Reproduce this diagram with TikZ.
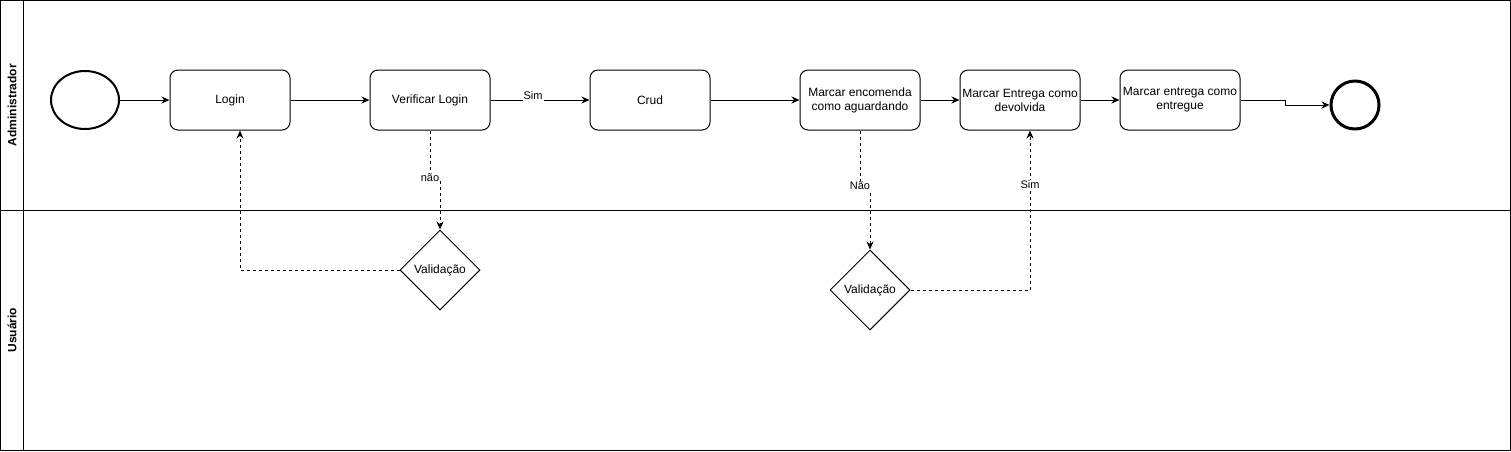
\documentclass[tikz,border=0pt]{standalone}
\usepackage{fontspec}
\setmainfont{Liberation Sans}
\usetikzlibrary{shapes, positioning, arrows.meta}

\begin{document}
\begin{tikzpicture}[
        x=1pt, y=-1pt,
        line width=1pt,
        font=\fontsize{12}{14}\selectfont,
        task/.style={draw, rounded corners=8pt, minimum width=120pt, minimum height=60pt, align=center, inner sep=1pt},
        decision/.style={draw, diamond, minimum width=80pt, minimum height=80pt, inner sep=0pt},
        startev/.style={draw, ellipse, line width=2pt, minimum width=68pt, minimum height=58pt},
        endev/.style={draw, circle, line width=3pt, minimum size=48pt},
        lane/.style={rotate=90, font=\fontsize{12}{14}\selectfont\bfseries},
        flow/.style={-{Stealth[length=8pt,width=7pt]}},
        msg/.style={flow, dashed},
        lbl/.style={fill=white, inner sep=1pt, font=\fontsize{11}{13}\selectfont}
      ]
      \useasboundingbox (0,0) rectangle (1511,451);
      % pool and lanes
      \draw (0.5,0.5) rectangle (1510.5,450.5);
      \draw (23.5,0.5) -- (23.5,450.5);
      \draw (0.5,210.5) -- (1510.5,210.5);
      \node[lane] (admin) at (12,105) {Administrador};
      \node[lane] (user) at (12,330) {Usuário};
      % events and tasks
      \node[startev] (ini) at (85,100) {};
      \node[task] (login) at (230,100) {Login};
      \node[task] (verif) at (430,100) {Verificar Login};
      \node[task] (crud) at (650,100) {Crud};
      \node[task] (enc) at (860,100) {Marcar encomenda\\como aguardando};
      \node[task] (dev) at (1020,100) {Marcar Entrega como\\devolvida};
      \node[task] (ent) at (1180,100) {Marcar entrega como\\entregue};
      \node[endev] (fim) at (1355,105) {};
      \node[decision] (val1) at (440,270) {Validação};
      \node[decision] (val2) at (870,290) {Validação};
      % flows
      \draw[flow] (ini) -- (login);
      \draw[flow] (login) -- (verif);
      \draw[flow] (verif) -- node[lbl, pos=0.43, yshift=4pt] {Sim} (crud);
      \draw[flow] (crud) -- (enc);
      \draw[flow] (enc) -- (dev);
      \draw[flow] (dev) -- (ent);
      \draw[flow] (ent.east) -- ++(45,0) |- (fim.west);
      \draw[msg] (verif.south) -- ++(0,47) node[lbl] {não} -| (val1.north);
      \draw[msg] (val1.west) -| ([xshift=10pt]login.south);
      \draw[msg] (enc.south) -- ++(0,55) node[lbl] {Não} -| (val2.north);
      \draw[msg] (val2.east) -| node[lbl, pos=0.83] {Sim} ([xshift=10pt]dev.south);
\end{tikzpicture}
\end{document}
